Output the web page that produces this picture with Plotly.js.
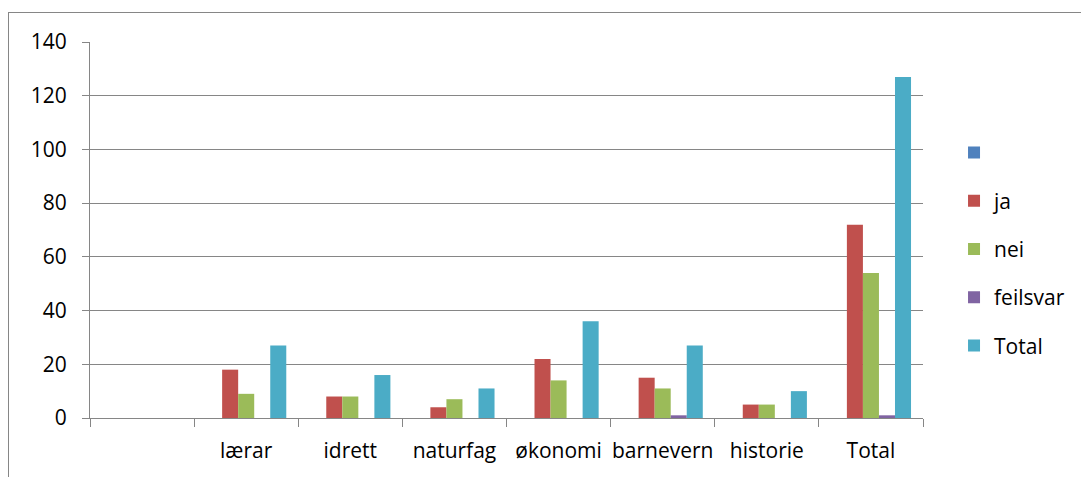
<!DOCTYPE html>
<html>
<head>
<meta charset="utf-8">
<script src="https://cdn.plot.ly/plotly-3.0.1.min.js"></script>
<style>
html,body{margin:0;padding:0;background:#fff;overflow:hidden;}
#frame{position:absolute;left:8px;top:12px;width:1300px;height:700px;border:1px solid #868686;box-sizing:border-box;}
#chart{position:absolute;left:0;top:0;width:1081px;height:477px;}
</style>
</head>
<body>
<div id="frame"></div>
<div id="chart"></div>
<script>
var categories = [" ", "lærar", "idrett", "naturfag", "økonomi", "barnevern", "historie", "Total"];
var seriesNames = ["", "ja", "nei", "feilsvar", "Total"];
var blankValues   = [null, null, null, null, null, null, null, null];
var jaValues      = [null, 18, 8, 4, 22, 15, 5, 72];
var neiValues     = [null, 9, 8, 7, 14, 11, 5, 54];
var feilsvarValues= [null, 0, 0, 0, 0, 1, 0, 1];
var totalValues   = [null, 27, 16, 11, 36, 27, 10, 127];
var yTicks = [0, 20, 40, 60, 80, 100, 120, 140];

var colors = ["#4F81BD", "#C0504D", "#9BBB59", "#8064A2", "#4BACC6"];
var allValues = [blankValues, jaValues, neiValues, feilsvarValues, totalValues];

var traces = allValues.map(function(v, i){
  return {
    type: "bar",
    x: categories,
    y: v,
    name: seriesNames[i],
    legendgroup: "g" + i,
    marker: {color: colors[i], line: {width: 0}},
    hoverinfo: "none"
  };
});

var font = {family: "Open Sans, Noto Sans, sans-serif", size: 21, color: "#000"};

var layout = {
  width: 1081, height: 477,
  margin: {l: 90, r: 157, t: 42, b: 59},
  paper_bgcolor: "rgba(0,0,0,0)",
  plot_bgcolor: "rgba(0,0,0,0)",
  font: font,
  barmode: "group",
  bargap: 0.23,
  bargroupgap: 0,
  showlegend: true,
  legend: {
    x: 1.036, xanchor: "left",
    y: 0.76, yanchor: "top",
    traceorder: "grouped",
    tracegroupgap: 18,
    font: font,
    bgcolor: "rgba(0,0,0,0)"
  },
  xaxis: {
    type: "category",
    tickangle: 0,
    showline: true, linecolor: "#868686", linewidth: 1,
    ticks: "outside", tickson: "boundaries", ticklen: 8, tickcolor: "#868686",
    ticklabelstandoff: 14,
    showgrid: false,
    zeroline: false,
    fixedrange: true
  },
  yaxis: {
    range: [0, 140],
    tickvals: yTicks,
    ticktext: yTicks.map(String),
    showline: true, linecolor: "#868686", linewidth: 1,
    ticks: "outside", ticklen: 7, tickcolor: "#868686",
    ticklabelstandoff: 11,
    showgrid: true, gridcolor: "#868686", gridwidth: 1,
    zeroline: false,
    fixedrange: true
  }
};

Plotly.newPlot("chart", traces, layout, {staticPlot: true, displayModeBar: false});
</script>
</body>
</html>
